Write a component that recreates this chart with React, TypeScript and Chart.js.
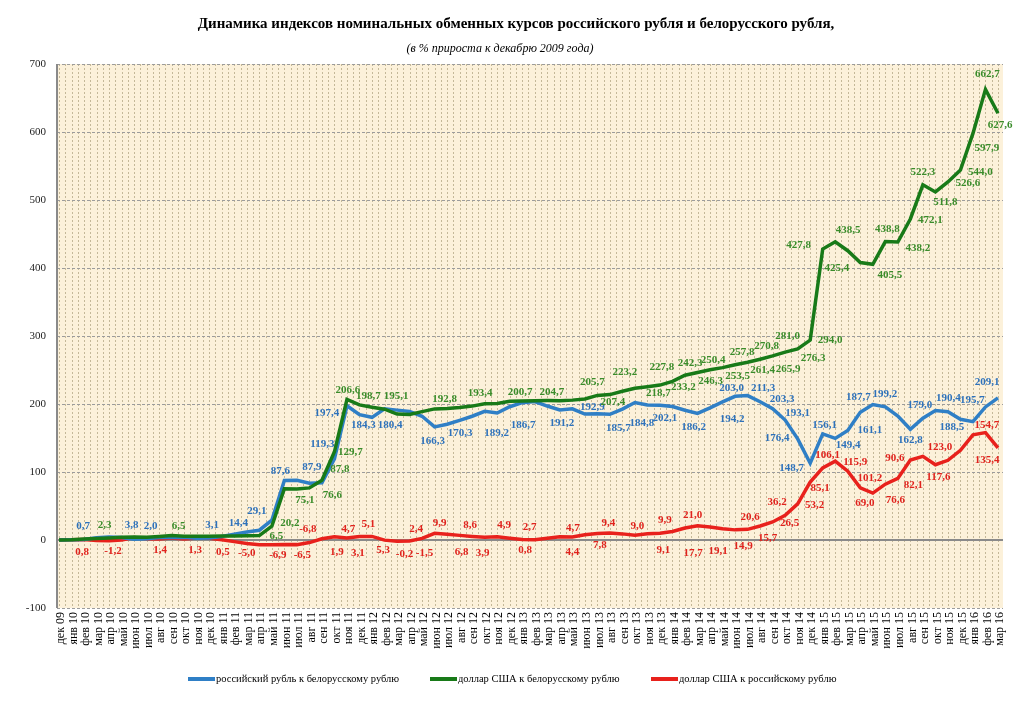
import React, { useEffect, useRef } from 'react';
import { Chart, registerables } from 'chart.js';
Chart.register(...registerables);

const months = [
  'дек 09',
  'янв 10','фев 10','мар 10','апр 10','май 10','июн 10','июл 10','авг 10','сен 10','окт 10','ноя 10','дек 10',
  'янв 11','фев 11','мар 11','апр 11','май 11','июн 11','июл 11','авг 11','сен 11','окт 11','ноя 11','дек 11',
  'янв 12','фев 12','мар 12','апр 12','май 12','июн 12','июл 12','авг 12','сен 12','окт 12','ноя 12','дек 12',
  'янв 13','фев 13','мар 13','апр 13','май 13','июн 13','июл 13','авг 13','сен 13','окт 13','ноя 13','дек 13',
  'янв 14','фев 14','мар 14','апр 14','май 14','июн 14','июл 14','авг 14','сен 14','окт 14','ноя 14','дек 14',
  'янв 15','фев 15','мар 15','апр 15','май 15','июн 15','июл 15','авг 15','сен 15','окт 15','ноя 15','дек 15',
  'янв 16','фев 16','мар 16',
];

// российский рубль к белорусскому рублю
const rubByr = [
  0, 0.2, 0.7, 3.2, 4.3, 3.8, 1.0, 2.0, 3.6, 3.6, 4.2, 2.5, 3.1,
  5.3, 8.6, 11.9, 14.4, 29.1, 87.6, 87.9, 83.6, 84.3, 119.3, 197.4, 184.3,
  180.4, 193.0, 191.0, 189.0, 182.0, 166.3, 170.3, 176.0, 182.0, 189.2, 186.7, 196.0,
  202.0, 203.5, 197.0, 191.2, 192.9, 185.2, 185.7, 184.8, 192.4, 202.1, 198.4, 198.3,
  196.2, 190.8, 186.2, 194.2, 203.0, 211.3, 212.4, 203.3, 193.1, 176.4, 148.7, 112.9,
  156.1, 149.4, 161.1, 187.7, 199.2, 195.9, 182.4, 162.8, 179.0, 190.4, 188.5, 177.6,
  174.0, 195.7, 209.1,
];

// доллар США к белорусскому рублю
const usdByr = [
  0, 0.4, 1.5, 2.3, 3.0, 3.9, 4.5, 3.9, 5.0, 6.5, 5.6, 5.6, 5.6,
  5.8, 6.0, 6.3, 6.5, 20.2, 75.4, 75.1, 76.6, 87.8, 129.7, 206.6, 198.7,
  195.1, 192.4, 185.2, 184.7, 188.8, 192.8, 193.4, 194.8, 196.9, 200.5, 200.7, 204.0,
  204.4, 204.7, 205.0, 204.9, 205.7, 207.4, 212.6, 213.8, 218.7, 223.2, 225.5, 227.8,
  233.2, 242.3, 246.3, 250.4, 253.5, 257.8, 261.4, 265.9, 270.8, 276.3, 281.0, 294.0,
  427.8, 438.5, 425.4, 408.1, 405.5, 438.8, 438.2, 472.1, 522.3, 511.8, 526.6, 544.0,
  597.9, 662.7, 627.6,
];

// доллар США к российскому рублю
const usdRub = [
  0, 0.2, 0.8, -0.9, -1.2, 0.1, 3.5, 1.9, 1.4, 2.8, 1.3, 3.0, 2.4,
  0.5, -2.4, -5.0, -6.9, -6.9, -6.5, -6.8, -3.8, 1.9, 4.7, 3.1, 5.1,
  5.3, -0.2, -2.0, -1.5, 2.4, 9.9, 8.6, 6.8, 5.3, 3.9, 4.9, 2.7,
  0.8, 0.4, 2.5, 4.7, 4.4, 7.8, 9.4, 10.2, 9.0, 7.0, 9.1, 9.9,
  12.5, 17.7, 21.0, 19.1, 16.7, 14.9, 15.7, 20.6, 26.5, 36.2, 53.2, 85.1,
  106.1, 115.9, 101.2, 76.6, 69.0, 82.1, 90.6, 117.6, 123.0, 110.7, 117.2, 132.0,
  154.7, 157.9, 135.4,
];

const yTicks = [-100, 0, 100, 200, 300, 400, 500, 600, 700];

const seriesNames = [
  'российский рубль к белорусскому рублю',
  'доллар США к белорусскому рублю',
  'доллар США к российскому рублю',
];

// labelled points: [point index, label shift x, label shift y] (label centre relative to the point)
const rubByrLabels: [number, number, number][] = [
  [2,-1,-13],[5,10,-12],[7,4,-12],[12,3,-13],[16,-21,-7],[17,-15,-9],[18,-4,-9],[19,15,-13],
  [22,-12,-15],[23,-20,7],[24,4,10],[25,18,8],[30,-2,14],[31,13,9],[34,12,22],[35,26,12],
  [40,2,13],[41,20,-2],[43,21,14],[44,32,9],[46,30,16],[51,-4,14],[52,22,11],[53,9,-14],
  [54,28,-8],[56,22,-3],[57,25,4],[58,-8,18],[59,-6,29],[61,2,-9],[62,13,7],[63,22,0],
  [64,-2,-15],[65,12,-10],[68,0,11],[69,-3,-13],[70,13,-12],[71,4,15],[74,-13,-7],[75,-11,-16],
];
const usdByrLabels: [number, number, number][] = [
  [3,8,-13],[9,7,-9],[16,17,1],[17,18,-3],[19,8,11],[20,23,7],[21,18,-11],[22,16,0],
  [23,1,-9],[24,9,-9],[25,24,-11],[30,10,-10],[31,33,-15],[35,23,-11],[38,17,-9],[41,20,-18],
  [42,28,3],[45,36,2],[46,-10,-16],[48,2,-18],[49,11,6],[50,5,-12],[51,13,9],[52,3,-10],
  [53,15,9],[54,7,-13],[55,15,8],[56,28,10],[57,-6,-10],[58,28,6],[59,-10,-13],[60,20,0],
  [61,-24,-4],[62,13,-12],[63,-11,17],[65,17,11],[66,2,-12],[67,20,6],[68,20,1],[69,0,-13],
  [70,10,10],[71,20,1],[72,20,2],[73,14,15],[74,2,-15],[75,2,12],
];
const usdRubLabels: [number, number, number][] = [
  [2,-2,13],[4,4,10],[8,1,11],[10,11,11],[13,1,12],[15,0,10],[17,6,10],[18,18,11],
  [19,11,-15],[21,15,13],[22,14,-8],[23,11,15],[24,9,-12],[25,11,14],[26,20,14],[28,15,12],
  [29,-6,-9],[30,5,-10],[31,23,-9],[32,2,17],[34,-2,16],[35,7,-12],[36,20,-11],[37,3,11],
  [40,13,-9],[41,0,15],[42,15,10],[43,11,-10],[45,15,-8],[47,16,16],[48,5,-13],[50,8,25],
  [51,-5,-11],[52,8,24],[54,8,16],[55,20,9],[56,-10,-9],[57,17,1],[58,-8,-13],[59,17,1],
  [60,10,6],[61,5,-13],[62,20,1],[63,22,7],[64,35,12],[65,-8,10],[66,28,1],[67,-3,-20],
  [68,28,17],[69,17,-9],[73,14,-10],[75,-11,12],
];

const BLUE = '#2f7fc6';
const GREEN = '#187a18';
const RED = '#e8211c';
const BLUE_TXT = '#2e72bb';
const GREEN_TXT = '#3a8c2a';
const RED_TXT = '#e0231d';
const SERIF = '"Liberation Serif", "Times New Roman", serif';

const fmt = (v: number) => v.toFixed(1).replace('.', ',');

const PLOT_L = 57;
const PLOT_R = 1003;

const decorPlugin = {
  id: 'decor',
  beforeDatasetsDraw(chart: any) {
    const { ctx, chartArea: a, scales } = chart;
    const x = scales.x;
    const y = scales.y;
    ctx.save();
    ctx.fillStyle = '#fcf1da';
    ctx.fillRect(PLOT_L, a.top, PLOT_R - PLOT_L, a.bottom - a.top);
    const step = (x.getPixelForValue(1) - x.getPixelForValue(0)) / 2;
    ctx.strokeStyle = '#c4b898';
    ctx.lineWidth = 1;
    ctx.setLineDash([2, 2]);
    const x0 = x.getPixelForValue(0);
    let k = Math.ceil((PLOT_L + 2 - x0) / step);
    for (;; k++) {
      const xx = x0 + k * step;
      if (xx > PLOT_R - 1) break;
      const px = Math.round(xx) + 0.5;
      ctx.beginPath();
      ctx.moveTo(px, a.top);
      ctx.lineTo(px, a.bottom);
      ctx.stroke();
    }
    ctx.strokeStyle = '#9c9c9c';
    ctx.setLineDash([3, 2]);
    yTicks.forEach((t) => {
      if (t === 0) return;
      const py = Math.round(y.getPixelForValue(t)) + 0.5;
      ctx.beginPath();
      ctx.moveTo(PLOT_L, py);
      ctx.lineTo(PLOT_R, py);
      ctx.stroke();
    });
    ctx.setLineDash([]);
    ctx.strokeStyle = '#8a8a8a';
    ctx.lineWidth = 2;
    const zy = Math.round(y.getPixelForValue(0));
    ctx.beginPath();
    ctx.moveTo(PLOT_L, zy);
    ctx.lineTo(PLOT_R, zy);
    ctx.stroke();
    ctx.beginPath();
    ctx.moveTo(PLOT_L, a.top);
    ctx.lineTo(PLOT_L, a.bottom);
    ctx.stroke();
    ctx.restore();
  },
  afterDatasetsDraw(chart: any) {
    const { ctx, scales } = chart;
    const x = scales.x;
    const y = scales.y;
    ctx.save();
    ctx.font = `bold 11px ${SERIF}`;
    ctx.textAlign = 'center';
    ctx.textBaseline = 'middle';
    const groups: [number[], [number, number, number][], string][] = [
      [usdRub, usdRubLabels, RED_TXT],
      [rubByr, rubByrLabels, BLUE_TXT],
      [usdByr, usdByrLabels, GREEN_TXT],
    ];
    groups.forEach(([vals, specs, color]) => {
      ctx.fillStyle = color;
      specs.forEach(([i, dx, dy]) => {
        ctx.fillText(fmt(vals[i]), x.getPixelForValue(i) + dx, y.getPixelForValue(vals[i]) + dy);
      });
    });
    ctx.restore();
  },
  afterDraw(chart: any) {
    const { ctx } = chart;
    ctx.save();
    ctx.fillStyle = '#000';
    ctx.textAlign = 'center';
    ctx.textBaseline = 'alphabetic';
    ctx.font = `bold 15px ${SERIF}`;
    ctx.fillText('Динамика индексов номинальных обменных курсов российского рубля и белорусского рубля,', 516, 28);
    ctx.font = `italic 12px ${SERIF}`;
    ctx.fillText('(в % прироста к декабрю 2009 года)', 500, 52);
    const items: [number, string][] = [[188, BLUE], [430, GREEN], [651, RED]];
    ctx.font = `10.5px ${SERIF}`;
    ctx.textAlign = 'left';
    ctx.textBaseline = 'middle';
    items.forEach(([lx, c], idx) => {
      ctx.strokeStyle = c;
      ctx.lineWidth = 4;
      ctx.beginPath();
      ctx.moveTo(lx, 679);
      ctx.lineTo(lx + 27, 679);
      ctx.stroke();
      ctx.fillStyle = '#000';
      ctx.fillText(seriesNames[idx], lx + 28, 679);
    });
    ctx.restore();
  },
};

export default function App() {
  const ref = useRef<HTMLCanvasElement | null>(null);
  useEffect(() => {
    if (!ref.current) return;
    const chart = new Chart(ref.current, {
      type: 'line',
      data: {
        labels: months,
        datasets: [
          { label: seriesNames[0], data: rubByr, borderColor: BLUE, backgroundColor: BLUE, borderWidth: 3.5, pointRadius: 0, tension: 0, order: 1 },
          { label: seriesNames[1], data: usdByr, borderColor: GREEN, backgroundColor: GREEN, borderWidth: 3.5, pointRadius: 0, tension: 0, order: 0 },
          { label: seriesNames[2], data: usdRub, borderColor: RED, backgroundColor: RED, borderWidth: 3.5, pointRadius: 0, tension: 0, order: 2 },
        ],
      },
      options: {
        responsive: false,
        animation: false,
        events: [],
        layout: { padding: { left: 0, right: 26, top: 64, bottom: 0 } },
        plugins: { legend: { display: false }, title: { display: false }, tooltip: { enabled: false } },
        scales: {
          x: {
            offset: false,
            grid: { display: false, drawTicks: false },
            border: { display: false },
            ticks: {
              autoSkip: false,
              maxRotation: 90,
              minRotation: 90,
              padding: 4,
              labelOffset: 2,
              color: '#000',
              font: { family: SERIF, size: 12 },
            },
            afterFit: (s: any) => { s.height = 96; },
          },
          y: {
            min: -100,
            max: 700,
            grid: { display: false, drawTicks: false },
            border: { display: false },
            ticks: {
              stepSize: 100,
              padding: 13,
              color: '#222',
              font: { family: SERIF, size: 11 },
              callback: (v: any) => String(v),
            },
            afterFit: (s: any) => { s.width = 59; },
          },
        },
      },
      plugins: [decorPlugin],
    });
    return () => chart.destroy();
  }, []);
  return (
    <div style={{ position: 'absolute', left: 0, top: 0, width: 1024, height: 704, background: '#fff' }}>
      <canvas ref={ref} width={1024} height={704} style={{ display: 'block' }} />
    </div>
  );
}
